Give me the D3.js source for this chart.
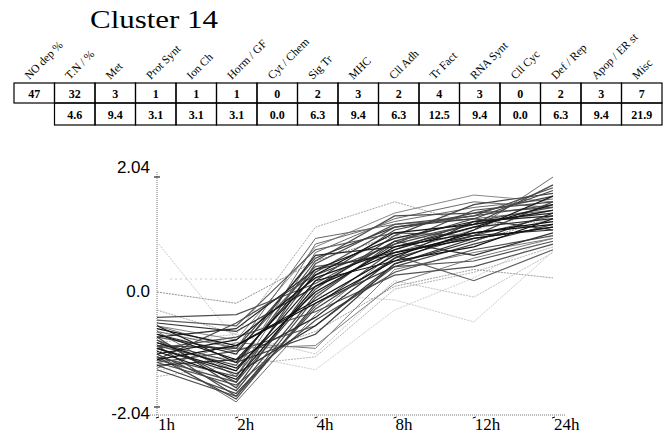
<!DOCTYPE html>
<html>
<head>
<meta charset="utf-8">
<script src="https://cdn.jsdelivr.net/npm/d3@7"></script>
<style>
	body{margin:0;background:#fff;}
	svg{display:block;}
</style>
</head>
<body>
<div id="plot"></div>
<script>
var W = 672, H = 438;

//table data
var categories = ['NO dep %','T.N / %','Met','Prot Synt','Ion Ch','Horm / GF','Cyt / Chem','Sig Tr','MHC','Cll Adh','Tr Fact','RNA Synt','Cll Cyc','Def / Rep','Apop / ER st','Misc'];
var counts = [47,32,3,1,1,1,0,2,3,2,4,3,0,2,3,7];
var percents = [4.6,9.4,3.1,3.1,3.1,0.0,6.3,9.4,6.3,12.5,9.4,0.0,6.3,9.4,21.9]; //starts under T.N / %

//profile data (log ratios)
var times = ['1h','2h','4h','8h','12h','24h'];
var yTicks = [2.04, 0.0, -2.04];
var refLevel = 0.23;
var profiles = [
	[0.89,-0.85,0.35,0.95,1.10,1.45],
	[0.00,-0.20,0.55,1.00,0.90,1.30],
	[-0.32,-0.75,1.15,1.60,1.20,1.25],
	[-1.10,-1.95,-0.40,0.70,1.10,2.04],
	[-0.95,-1.85,-0.10,0.90,1.30,1.80],
	[-0.80,-1.70,0.20,1.10,1.40,1.70],
	[-1.20,-1.60,0.50,1.20,1.35,1.55],
	[-0.70,-1.50,0.70,1.30,1.60,1.50],
	[-1.00,-1.45,-0.60,0.50,0.90,1.40],
	[-0.90,-1.35,0.00,0.80,1.05,1.25],
	[-1.30,-1.80,-0.30,0.60,1.00,1.60],
	[-0.60,-1.25,0.40,0.95,1.25,1.35],
	[-1.05,-1.55,0.10,0.70,0.95,1.15],
	[-0.85,-1.40,0.85,1.25,1.50,1.65],
	[-1.15,-1.90,-0.20,0.45,0.85,1.20],
	[-0.75,-1.20,0.30,1.05,1.20,1.45],
	[-1.25,-1.65,-0.50,0.35,0.75,1.00],
	[-0.95,-1.00,0.60,1.15,1.30,1.10],
	[-0.65,-0.95,-0.20,0.55,0.80,1.30],
	[-1.10,-0.85,0.25,0.75,1.15,1.55],
	[-0.55,-0.70,0.10,0.90,0.65,1.05],
	[-1.35,-0.90,-1.00,0.40,0.70,0.95],
	[-1.00,-0.80,-0.35,0.30,0.45,0.85],
	[-0.80,-1.05,0.45,0.65,0.20,0.75],
	[-1.20,-0.95,-0.15,0.65,1.05,1.20],
	[-0.50,-0.60,0.75,1.05,1.00,1.35],
	[-0.90,-0.75,-1.10,0.20,-0.09,0.70],
	[-1.40,-1.10,-1.38,-0.32,0.25,1.00],
	[-0.70,-0.90,-0.05,-0.14,-0.53,0.72],
	[-1.05,-1.20,-0.70,0.10,0.40,0.25],
	[-0.60,-1.00,-0.95,0.15,0.60,0.95],
	[-1.50,-1.30,-1.15,0.05,0.35,0.80],
	[-1.20,-0.55,0.30,0.85,1.45,1.60],
	[-0.85,-1.60,0.05,1.00,1.55,1.75],
	[-0.95,-1.30,0.55,1.35,1.40,1.50],
	[-1.10,-1.75,-0.05,0.85,1.20,1.90],
	[-0.75,-1.10,0.65,0.80,1.15,1.30],
	[-1.30,-1.20,-0.45,0.60,1.25,1.40],
	[-0.60,-0.85,0.80,1.40,1.72,1.60],
	[-1.00,-1.40,0.20,0.55,1.10,1.70],
	[-0.90,-1.25,-0.75,0.50,0.95,1.15],
	[-1.15,-1.50,0.35,1.15,1.35,1.85],
	[-0.70,-1.00,0.95,1.20,1.30,1.45],
	[-1.25,-1.05,-0.60,0.45,0.55,0.90],
	[-0.80,-0.65,0.40,0.70,1.00,1.10],
	[-1.38,-1.85,-0.25,0.75,1.25,1.50],
	[-0.45,-0.40,0.15,0.90,1.20,1.45]
];

var svg = d3.select('#plot')
	.append('svg')
	.attr('width',W)
	.attr('height',H);

svg.append('rect').attr('width',W).attr('height',H).style('fill','#fff');

//title
svg.append('text')
	.attr('x',90)
	.attr('y',28)
	.attr('textLength',128)
	.attr('lengthAdjust','spacingAndGlyphs')
	.style('font-family','"Liberation Serif", serif')
	.style('font-size','25px')
	.text('Cluster 14');

//table
var tx = d3.scaleBand().domain(d3.range(categories.length)).range([14,662]);
var row1 = 83, row2 = 103, row3 = 125;
var table = svg.append('g').attr('class','table');

table.selectAll('.head')
	.data(categories)
	.enter().append('text')
	.attr('class','head')
	.attr('transform',function(d,i){ return 'translate('+(tx(i)+tx.bandwidth()/2-5)+','+(row1-3)+') rotate(-45)'; })
	.style('font-family','"Liberation Serif", serif')
	.style('font-size','11.5px')
	.text(function(d){ return d; });

//row 1 cells
table.selectAll('.c1')
	.data(counts)
	.enter().append('rect')
	.attr('class','c1')
	.attr('x',function(d,i){ return tx(i); })
	.attr('y',row1)
	.attr('width',tx.bandwidth())
	.attr('height',row2-row1)
	.style('fill','none').style('stroke','#000').style('stroke-width',1.2);

table.selectAll('.t1')
	.data(counts)
	.enter().append('text')
	.attr('class','t1')
	.attr('x',function(d,i){ return tx(i)+tx.bandwidth()/2; })
	.attr('y',row1+14.5)
	.attr('text-anchor','middle')
	.style('font-family','"Liberation Serif", serif')
	.style('font-weight','bold')
	.style('font-size','12px')
	.text(function(d){ return d; });

//row 2 cells (no cell under NO dep %)
table.selectAll('.c2')
	.data(percents)
	.enter().append('rect')
	.attr('class','c2')
	.attr('x',function(d,i){ return tx(i+1); })
	.attr('y',row2)
	.attr('width',tx.bandwidth())
	.attr('height',row3-row2)
	.style('fill','none').style('stroke','#000').style('stroke-width',1.2);

table.selectAll('.t2')
	.data(percents)
	.enter().append('text')
	.attr('class','t2')
	.attr('x',function(d,i){ return tx(i+1)+tx.bandwidth()/2; })
	.attr('y',row2+16)
	.attr('text-anchor','middle')
	.style('font-family','"Liberation Serif", serif')
	.style('font-weight','bold')
	.style('font-size','12px')
	.text(function(d){ return d.toFixed(1); });

//line plot
var x = d3.scalePoint().domain(times).range([157,553]);
var y = d3.scaleLinear().domain([-2.04,2.04]).range([407,177]);
var axisY = y(-2.04)+8;

var plot = svg.append('g').attr('class','canvas');

//axes, dotted like the scan
plot.append('line')
	.attr('x1',x('1h')-7).attr('x2',x('24h')+12)
	.attr('y1',axisY).attr('y2',axisY)
	.style('stroke','#777').style('stroke-dasharray','1,1');
plot.append('line')
	.attr('x1',x('1h')).attr('x2',x('1h'))
	.attr('y1',y(2.04)-5).attr('y2',axisY)
	.style('stroke','#777').style('stroke-dasharray','1,1');

plot.append('line')
	.attr('x1',x('1h')+13).attr('x2',x('4h'))
	.attr('y1',y(refLevel)).attr('y2',y(refLevel))
	.style('stroke','#ccc').style('stroke-dasharray','2,3');

//colour by distance to cluster centroid: close = dark
var centroid = times.map(function(t,j){ return d3.mean(profiles,function(p){ return p[j]; }); });
var dist = profiles.map(function(p){
	return Math.sqrt(d3.sum(p,function(v,j){ return (v-centroid[j])*(v-centroid[j]); }));
});
var grey = d3.scaleLinear().domain([0.5,1.9]).range(['#111','#cfcfcf']).clamp(true);

var line = d3.line()
	.x(function(d,j){ return x(times[j]); })
	.y(function(d){ return y(d); });

var order = d3.range(profiles.length).sort(function(a,b){ return dist[b]-dist[a]; });

plot.selectAll('.gene')
	.data(order)
	.enter().append('path')
	.attr('class','gene')
	.attr('d',function(i){ return line(profiles[i]); })
	.style('fill','none')
	.style('stroke',function(i){ return grey(dist[i]); })
	.style('stroke-width',function(i){ return dist[i]<1.1 ? 1.2 : 1; })
	.style('stroke-dasharray',function(i){ return dist[i]>1.4 ? '2,1' : null; });

//y ticks and labels
plot.selectAll('.ytick')
	.data(yTicks.filter(function(d){ return d!==0; }))
	.enter().append('line')
	.attr('x1',x('1h')-3).attr('x2',x('1h')+3)
	.attr('y1',function(d){ return y(d); }).attr('y2',function(d){ return y(d); })
	.style('stroke','#000');

var yOff = {'2.04':-4,'0':5,'-2.04':12};
plot.selectAll('.ylab')
	.data(yTicks)
	.enter().append('text')
	.attr('class','ylab')
	.attr('x',150)
	.attr('y',function(d){ return y(d)+yOff[String(d)]; })
	.attr('text-anchor','end')
	.style('font-family','"Liberation Sans", sans-serif')
	.style('font-size','17px')
	.text(function(d){ return d===0 ? '0.0' : d.toFixed(2); });

//x labels with small tick marks
plot.selectAll('.xtick')
	.data(times)
	.enter().append('line')
	.attr('x1',function(d){ return x(d)-1; }).attr('x2',function(d){ return x(d)+2; })
	.attr('y1',axisY+3).attr('y2',axisY+2)
	.style('stroke','#000');

plot.selectAll('.xlab')
	.data(times)
	.enter().append('text')
	.attr('class','xlab')
	.attr('x',function(d){ return x(d)+1; })
	.attr('y',axisY+15)
	.style('font-family','"Liberation Serif", serif')
	.style('font-size','17px')
	.text(function(d){ return d; });
</script>
</body>
</html>
